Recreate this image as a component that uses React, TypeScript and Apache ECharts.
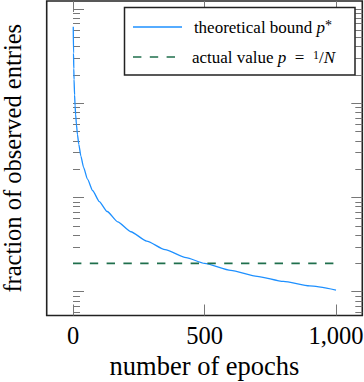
import React, { useEffect, useRef } from 'react';
import * as echarts from 'echarts';

// ---- data ----
const epochs = [1, 2, 3, 4, 6, 8, 10, 13, 17, 22, 30, 40, 55, 75, 100, 130, 170, 220, 280, 350, 430, 500, 600, 700, 800, 900, 1000];
const boundValues = [0.65, 0.341, 0.2334, 0.179, 0.1227, 0.0939, 0.0764, 0.0598, 0.0466, 0.0367, 0.0275, 0.021, 0.01564, 0.0118, 0.00906, 0.0071, 0.00551, 0.00433, 0.00345, 0.0028, 0.0023, 0.002, 0.001685, 0.001458, 0.001286, 0.001151, 0.001042];
const actualEpochs = [0, 1000];
const actualValue = 0.002;
const xTicks = [0, 500, 1000];
const yMajorTicks = [0.001, 0.01, 0.1, 1];
const yMinorTicks = [
  0.0006, 0.0007, 0.0008, 0.0009,
  0.002, 0.003, 0.004, 0.005, 0.006, 0.007, 0.008, 0.009,
  0.02, 0.03, 0.04, 0.05, 0.06, 0.07, 0.08, 0.09,
  0.2, 0.3, 0.4, 0.5, 0.6, 0.7, 0.8, 0.9,
];
const xRange = [-100, 1100];
const yRange = [0.000559, 1.219];

const BLUE = '#1e90ff';
const GREEN = '#1f6f4c';
const FONT = '"Liberation Serif", "Times New Roman", serif';
const TICK = '#777';

export default function App() {
  const ref = useRef<HTMLDivElement>(null);
  useEffect(() => {
    if (!ref.current) return;
    const chart = echarts.init(ref.current, undefined, { renderer: 'svg' });

    const xBase = (position: 'bottom' | 'top', withLabels: boolean) => ({
      type: 'value',
      position,
      min: xRange[0],
      max: xRange[1],
      axisLine: { show: false },
      splitLine: { show: false },
      axisTick: { show: true, inside: true, length: 11, customValues: xTicks, lineStyle: { color: TICK, width: 1 } },
      axisLabel: withLabels
        ? {
            show: true,
            customValues: xTicks,
            margin: 7,
            color: '#000',
            fontFamily: FONT,
            fontSize: 24.5,
            formatter: (v: number) => v.toLocaleString('en-US'),
          }
        : { show: false },
    });

    const yBase = (position: 'left' | 'right', ticks: number[], len: number) => ({
      type: 'log',
      logBase: 10,
      position,
      min: yRange[0],
      max: yRange[1],
      axisLine: { show: false },
      splitLine: { show: false },
      minorTick: { show: false },
      axisTick: { show: true, inside: true, length: len, customValues: ticks, lineStyle: { color: TICK, width: 1 } },
      axisLabel: { show: false },
    });

    const yMain: any = yBase('left', yMajorTicks, 11);
    yMain.name = 'fraction of observed entries';
    yMain.nameLocation = 'middle';
    yMain.nameGap = 22;
    yMain.nameTextStyle = { fontFamily: FONT, fontSize: 24.5, color: '#000' };

    const xMain: any = xBase('bottom', true);
    xMain.name = 'number of epochs';
    xMain.nameLocation = 'middle';
    xMain.nameGap = 33;
    xMain.nameTextStyle = { fontFamily: FONT, fontSize: 26.5, color: '#000' };

    const option: any = {
      animation: false,
      grid: {
        left: 46.7,
        right: 1.7,
        top: 1,
        bottom: 66.5,
        containLabel: false,
        outerBoundsMode: 'none',
        show: true,
        borderColor: '#222',
        borderWidth: 1.6,
        backgroundColor: 'transparent',
      },
      xAxis: [xMain, xBase('top', false)],
      yAxis: [
        yMain,
        yBase('left', yMinorTicks, 7),
        yBase('right', yMajorTicks, 11),
        yBase('right', yMinorTicks, 7),
      ],
      series: [
        {
          name: 'theoretical bound',
          type: 'line',
          xAxisIndex: 0,
          yAxisIndex: 0,
          data: epochs.map((e, i) => [e, boundValues[i]]),
          showSymbol: false,
          symbol: 'none',
          smooth: 0.2,
          smoothMonotone: 'x',
          lineStyle: { color: BLUE, width: 1.3 },
        },
        {
          name: 'actual value',
          type: 'line',
          xAxisIndex: 0,
          yAxisIndex: 0,
          data: actualEpochs.map((e) => [e, actualValue]),
          showSymbol: false,
          symbol: 'none',
          lineStyle: { color: GREEN, width: 1.6, type: [8.4, 8.4] },
        },
      ],
      graphic: [
        {
          type: 'rect',
          shape: { x: 124.5, y: 7.5, width: 230.5, height: 67.5 },
          style: { fill: '#fff', stroke: '#222', lineWidth: 1.5 },
          z: 100,
        },
        {
          type: 'line',
          shape: { x1: 133, y1: 27, x2: 182, y2: 27 },
          style: { stroke: BLUE, lineWidth: 1.3 },
          z: 101,
        },
        {
          type: 'line',
          shape: { x1: 133, y1: 57, x2: 182, y2: 57 },
          style: { stroke: GREEN, lineWidth: 1.6, lineDash: [8.4, 8.4] },
          z: 101,
        },
        {
          type: 'text',
          x: 263,
          y: 27,
          z: 101,
          style: {
            text: '{n|theoretical bound }{i|p}{s|*}',
            align: 'center',
            verticalAlign: 'middle',
            fill: '#000',
            rich: {
              n: { fontFamily: FONT, fontSize: 17, fill: '#000' },
              i: { fontFamily: FONT, fontSize: 17, fontStyle: 'italic', fill: '#000' },
              s: { fontFamily: FONT, fontSize: 14, fill: '#000', verticalAlign: 'top' },
            },
          },
        },
        {
          type: 'text',
          x: 263.5,
          y: 57,
          z: 101,
          style: {
            text: '{n|actual value }{i|p}{n|  =  }{s|1}{n|/}{i|N}',
            align: 'center',
            verticalAlign: 'middle',
            fill: '#000',
            rich: {
              n: { fontFamily: FONT, fontSize: 17, fill: '#000' },
              i: { fontFamily: FONT, fontSize: 17, fontStyle: 'italic', fill: '#000' },
              s: { fontFamily: FONT, fontSize: 12, fill: '#000', verticalAlign: 'top' },
            },
          },
        },
      ],
    };
    chart.setOption(option);
    return () => chart.dispose();
  }, []);
  return (
    <div
      ref={ref}
      style={{ position: 'fixed', left: 0, top: 0, width: 364, height: 382, background: '#fff' }}
    />
  );
}
